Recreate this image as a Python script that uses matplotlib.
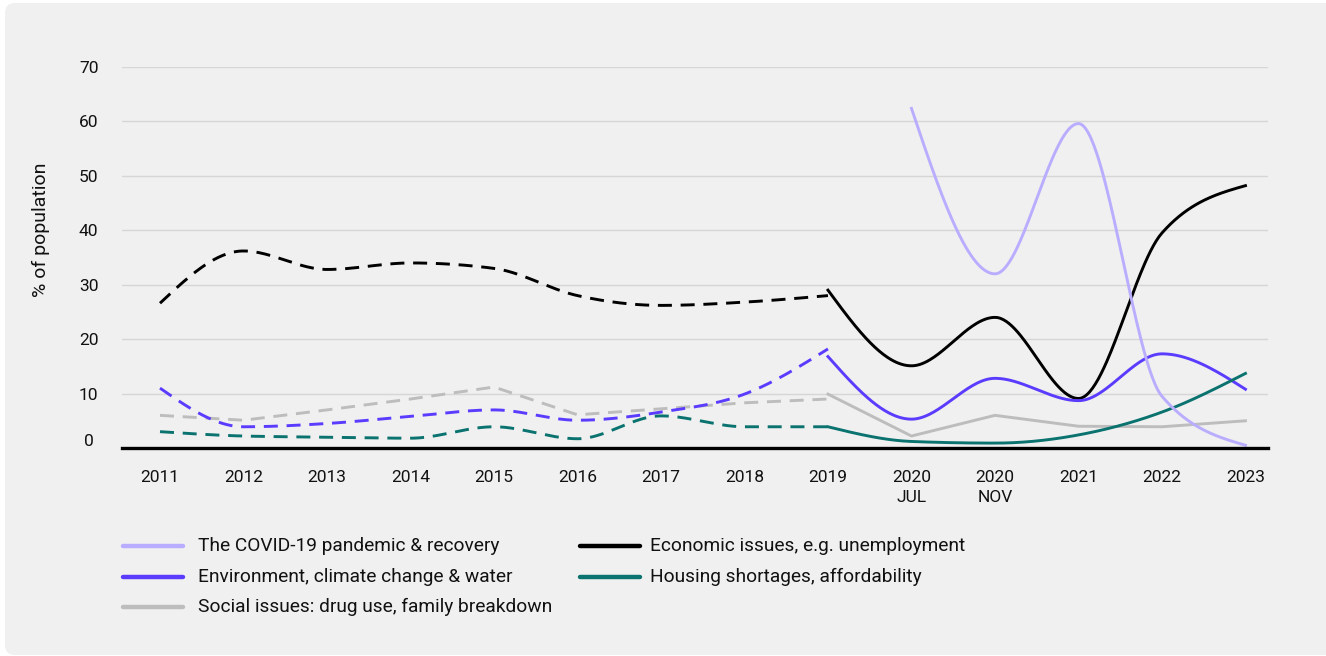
import numpy as np
import matplotlib
matplotlib.use("Agg")
import matplotlib.pyplot as plt
import matplotlib.transforms as mtransforms
from matplotlib.lines import Line2D
from matplotlib.patches import FancyBboxPatch

plt.rcParams["font.family"] = ["Roboto", "DejaVu Sans"]

# ---------------------------------------------------------------------------
# Data (% of population naming each issue)
# ---------------------------------------------------------------------------
periods = ["2011", "2012", "2013", "2014", "2015", "2016", "2017", "2018",
           "2019", "2020\nJUL", "2020\nNOV", "2021", "2022", "2023"]

# older survey series, 2011-2019 (dashed)
economic_old = [26.6, 36.2, 32.8, 34.0, 33.0, 28.0, 26.2, 26.8, 28.0]
environment_old = [11.0, 3.9, 4.5, 5.8, 7.0, 5.1, 6.6, 9.9, 18.2]
housing_old = [3.0, 2.2, 2.0, 1.8, 3.9, 1.7, 5.9, 3.9, 3.9]
social_old = [6.0, 5.1, 7.0, 9.0, 11.2, 6.1, 7.2, 8.3, 9.0]

# current survey series, 2019-2023 (solid)
economic_new = [29.0, 15.1, 24.0, 9.1, 39.5, 48.2]
environment_new = [16.8, 5.3, 12.8, 8.7, 17.3, 10.8]
housing_new = [3.9, 1.2, 0.9, 2.4, 6.6, 13.7]
social_new = [9.9, 2.2, 6.0, 4.0, 3.9, 5.0]
covid_new = [62.4, 32.0, 59.6, 9.5, 0.5]

COLORS = {
    "covid": "#b9adff",
    "economic": "#000000",
    "environment": "#5a3cff",
    "housing": "#0b736f",
    "social": "#bdbdbd",
}
LABELS = {
    "covid": "The COVID-19 pandemic & recovery",
    "economic": "Economic issues, e.g. unemployment",
    "environment": "Environment, climate change & water",
    "housing": "Housing shortages, affordability",
    "social": "Social issues: drug use, family breakdown",
}


def monotone_x(x, y, n=60):
    """Monotone cubic interpolation (same tangents as d3.curveMonotoneX)."""
    x = np.asarray(x, float)
    y = np.asarray(y, float)
    if len(x) < 3:
        return x, y
    h = np.diff(x)
    s = np.diff(y) / h
    t = np.zeros(len(x))
    for i in range(1, len(x) - 1):
        s0, s1 = s[i - 1], s[i]
        p = (s0 * h[i] + s1 * h[i - 1]) / (h[i - 1] + h[i])
        t[i] = (np.sign(s0) + np.sign(s1)) * min(abs(s0), abs(s1), 0.5 * abs(p))
    t[0] = (3 * s[0] - t[1]) / 2
    t[-1] = (3 * s[-1] - t[-2]) / 2

    xs, ys = [], []
    u = np.linspace(0, 1, n)
    for i in range(len(x) - 1):
        h00 = 2 * u**3 - 3 * u**2 + 1
        h10 = u**3 - 2 * u**2 + u
        h01 = -2 * u**3 + 3 * u**2
        h11 = u**3 - u**2
        xs.append(x[i] + u * h[i])
        ys.append(h00 * y[i] + h10 * h[i] * t[i] + h01 * y[i + 1] + h11 * h[i] * t[i + 1])
    return np.concatenate(xs), np.concatenate(ys)


fig = plt.figure(figsize=(13.26, 6.56), dpi=100, facecolor="white")

# light grey rounded card behind everything
card = FancyBboxPatch((0.05, 0.01), 13.5, 6.52, boxstyle="round,pad=0,rounding_size=0.1",
                      transform=fig.dpi_scale_trans, facecolor="#f0f0f0", edgecolor="none",
                      zorder=-10)
fig.patches.append(card)

ax = fig.add_axes([122 / 1326, 1 - 448 / 656, 1146 / 1326, 381 / 656])
ax.set_facecolor("none")

x_old = np.arange(0, 9)
x_new = np.arange(8, 14)
x_covid = np.arange(9, 14)

LW = 2.1
DASH = (4.8, 3.0)

smooth_series = [
    ("economic", economic_old, economic_new),
    ("environment", environment_old, environment_new),
    ("housing", housing_old, housing_new),
]
for key, old, new in smooth_series:
    xs, ys = monotone_x(x_old, old)
    ax.plot(xs, ys, color=COLORS[key], lw=LW, dashes=DASH, zorder=3, clip_on=False)
    xs, ys = monotone_x(x_new, new)
    ax.plot(xs, ys, color=COLORS[key], lw=LW, zorder=3, clip_on=False)

# social issues drawn as straight segments
ax.plot(x_old, social_old, color=COLORS["social"], lw=LW, dashes=DASH, zorder=2, clip_on=False)
ax.plot(x_new, social_new, color=COLORS["social"], lw=LW, zorder=2, clip_on=False)

xs, ys = monotone_x(x_covid, covid_new)
ax.plot(xs, ys, color=COLORS["covid"], lw=LW, zorder=4, clip_on=False)

# axes styling
ax.set_xlim(-0.455, 13.27)
ax.set_ylim(0, 70)
ax.set_yticks(range(0, 71, 10))
ax.set_xticks(range(len(periods)))
ax.set_xticklabels(periods, fontsize=12.5, color="#111111", linespacing=1.4)
ax.grid(axis="y", color="#d6d6d6", lw=1.0)
ax.set_axisbelow(True)
for side in ["top", "right", "left"]:
    ax.spines[side].set_visible(False)
ax.spines["bottom"].set_color("#000000")
ax.spines["bottom"].set_linewidth(2.4)
ax.spines["bottom"].set_zorder(5)
ax.tick_params(axis="x", length=0, pad=16)
ax.tick_params(axis="y", length=0, pad=24, labelsize=12.5, labelcolor="#111111")
for lab in ax.get_yticklabels():
    lab.set_horizontalalignment("center")
zero_lab = ax.get_yticklabels()[0]
zero_lab.set_transform(zero_lab.get_transform()
                       + mtransforms.ScaledTranslation(0, 6 / 72, fig.dpi_scale_trans))

ax.set_ylabel("% of population", fontsize=14, color="#111111")
ax.yaxis.set_label_coords(-0.063, 0.572)

# legend, two columns drawn by hand
legend_rows = [
    ("covid", 123, 546), ("environment", 123, 577), ("social", 123, 607),
    ("economic", 580, 546), ("housing", 580, 577),
]
for key, px, py in legend_rows:
    yf = 1 - py / 656
    fig.add_artist(Line2D([px / 1326, (px + 60) / 1326], [yf, yf], color=COLORS[key],
                          lw=3.2, solid_capstyle="round", transform=fig.transFigure))
    text_x = px + (75 if px < 300 else 70)
    fig.text(text_x / 1326, yf, LABELS[key], fontsize=13.8, color="#111111",
             va="center", ha="left")

fig.savefig("out.png", dpi=100, facecolor="white")
